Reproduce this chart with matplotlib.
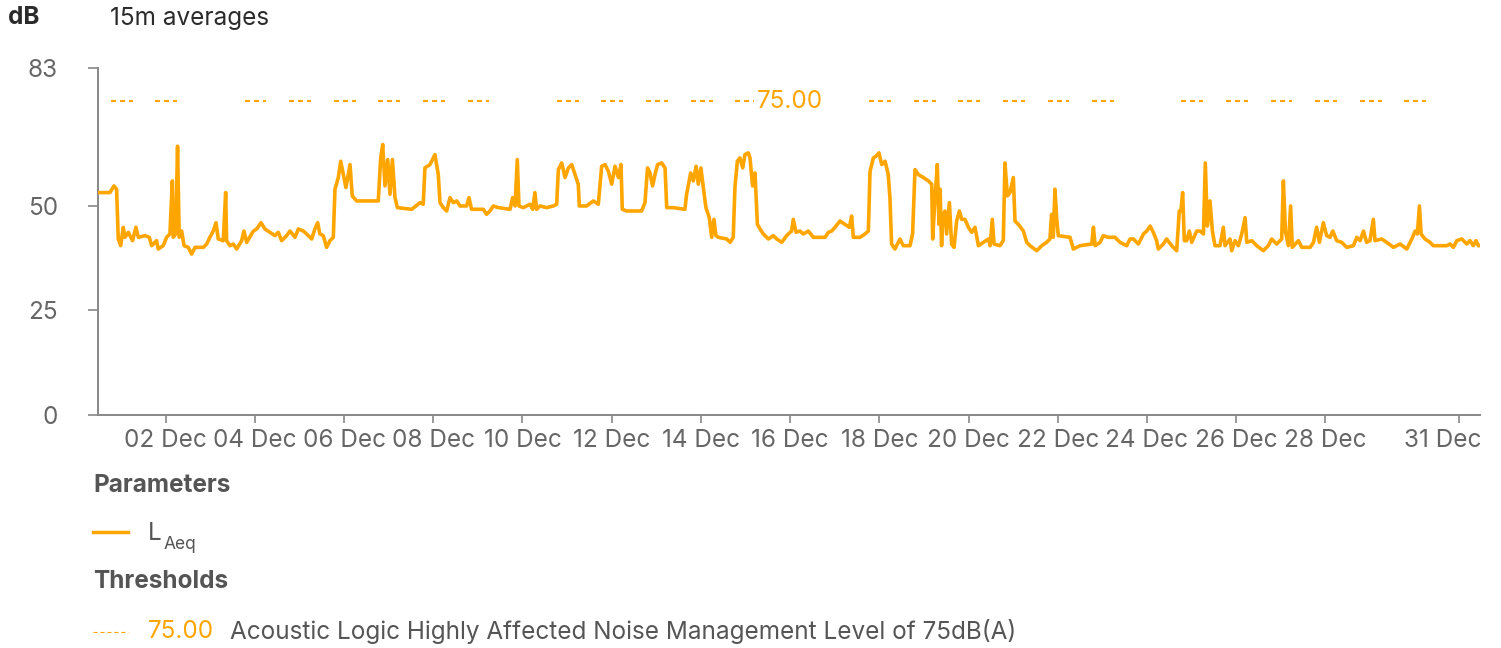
import numpy as np
import pandas as pd
import matplotlib
matplotlib.use("Agg")
import matplotlib.pyplot as plt
import matplotlib.dates as mdates
import matplotlib.transforms as mtrans
from matplotlib.lines import Line2D

plt.rcParams['font.family'] = ['Inter', 'DejaVu Sans']
plt.rcParams['lines.scale_dashes'] = False

# LAeq 15 min averages: hours since 1 Dec 2023 00:00 and dB
hours = [-12.3, -6.0, -3.8, -2.4, -1.5, -0.2, 1.2, 2.1, 3.9, 6.2, 8.0, 9.3, 12.9, 15.2, 16.5,
         19.1, 20.0, 22.7, 24.5, 26.3, 27.6, 28.1, 29.4, 30.4, 31.3, 32.6, 33.9, 36.2, 38.0,
         39.8, 44.3, 46.1, 47.8, 49.6, 51.1, 52.3, 55.0, 56.3, 56.8, 58.6, 60.4, 62.2, 64.9,
         66.1, 67.6, 71.2, 73.0, 75.3, 77.4, 80.1, 82.8, 84.6, 86.4, 89.1, 90.9, 93.6, 95.4,
         98.1, 100.8, 102.6, 104.3, 105.8, 107.0, 108.8, 110.6, 112.4, 114.2, 115.1, 116.9,
         118.2, 119.6, 121.0, 123.2, 124.4, 126.8, 138.4, 139.7, 140.8, 142.0, 143.5, 144.7,
         146.0, 147.4, 148.7, 156.4, 160.9, 162.6, 163.5, 166.2, 168.9, 170.7, 171.6, 173.4,
         175.2, 177.0, 178.8, 180.6, 182.4, 185.9, 187.2, 188.6, 194.9, 196.7, 198.5, 200.3,
         203.0, 209.3, 210.7, 212.0, 213.2, 214.1, 216.4, 220.0, 221.5, 222.7, 223.6, 225.4,
         229.0, 232.6, 234.4, 235.3, 237.1, 238.9, 240.7, 242.5, 244.3, 246.0, 246.6, 250.5,
         254.1, 256.8, 258.6, 260.4, 262.2, 264.0, 265.8, 267.6, 269.0, 269.7, 272.0, 280.1,
         281.9, 283.3, 284.6, 286.0, 287.3, 288.7, 290.9, 292.7, 293.6, 297.2, 303.4, 304.3,
         306.5, 307.9, 309.4, 310.6, 312.0, 313.3, 314.7, 316.5, 317.8, 319.0, 320.1, 321.4,
         325.9, 327.7, 329.4, 330.3, 331.6, 333.0, 334.5, 335.7, 337.5, 338.4, 339.8, 341.1,
         342.4, 343.8, 345.6, 348.3, 351.0, 352.8, 355.5, 358.1, 360.8, 361.7, 363.2, 365.3,
         367.1, 369.8, 372.5, 378.8, 380.6, 382.4, 384.7, 386.8, 389.5, 391.9, 393.1, 394.0,
         397.6, 400.3, 402.1, 403.0, 404.8, 406.2, 407.8, 409.3, 411.1, 412.8, 413.7, 414.6,
         416.4, 419.1, 420.9, 424.5, 425.9, 427.2, 429.0, 431.7, 434.4, 436.2, 436.7, 438.0,
         439.2, 440.1, 440.7, 441.5, 442.1, 443.3, 444.2, 445.7, 446.9, 448.2, 449.6, 451.1,
         452.3, 454.1, 455.9, 457.7, 459.5, 461.3, 466.7, 467.6, 468.8, 469.7, 472.9, 474.7,
         475.6, 476.9, 478.3, 480.1, 481.0, 482.8, 485.5, 487.3, 489.1, 492.7, 495.4, 498.0,
         499.8, 500.7, 501.6, 502.5, 503.4, 504.3, 510.6, 512.4, 516.0, 522.3, 523.2, 524.1,
         526.8, 528.5, 531.2, 534.8, 537.5, 541.1, 542.9, 544.7, 547.4, 550.1, 551.9, 553.7,
         555.4, 557.2, 558.1, 560.8, 562.6, 565.3, 568.0, 569.4, 570.3, 571.2, 572.1, 573.4,
         574.8, 576.1, 578.8, 580.6, 582.4, 583.4, 584.5, 585.9, 587.2, 588.6, 591.3, 593.1,
         594.0, 596.7, 597.6, 599.4, 601.2, 603.0, 604.8, 605.7, 608.4, 611.1, 614.6, 617.3,
         619.1, 621.8, 624.5, 625.4, 626.5, 628.1, 629.3, 630.2, 633.5, 635.3, 639.8, 641.6,
         643.3, 644.8, 646.9, 648.7, 650.5, 652.0, 654.1, 656.8, 659.5, 663.1, 664.9, 666.7,
         668.5, 670.2, 672.0, 673.8, 674.7, 678.3, 681.0, 684.6, 688.2, 691.8, 694.5, 696.3,
         697.5, 698.6, 699.5, 701.6, 704.3, 706.1, 713.3, 715.1, 716.9, 718.7, 721.4, 724.1,
         725.8, 727.6, 729.1, 730.3, 731.2]
laeq = [53.2, 53.2, 54.8, 54.0, 42.1, 40.5, 44.9, 42.5, 43.7, 41.7, 44.9, 42.5, 42.9, 42.5, 40.5,
        41.7, 39.7, 40.5, 42.5, 43.3, 56.0, 42.5, 43.3, 64.3, 42.5, 44.0, 40.5, 40.1, 38.5,
        40.1, 40.1, 40.9, 42.5, 44.0, 46.0, 42.1, 41.7, 53.2, 41.7, 40.5, 40.9, 39.7, 41.7,
        44.0, 41.3, 44.0, 44.5, 46.0, 44.5, 43.7, 42.9, 43.7, 41.7, 42.9, 44.0, 42.5, 44.5,
        44.0, 42.9, 42.1, 44.5, 46.0, 43.3, 42.9, 40.1, 41.7, 42.5, 54.0, 56.8,
        60.7, 57.5, 54.4, 59.9, 52.4, 51.2, 51.2, 61.5, 64.7, 54.8, 61.1, 52.8,
        61.1, 52.0, 49.6, 49.2, 50.8, 50.4, 59.1, 59.9, 62.3, 57.5, 50.8, 49.6,
        48.8, 52.0, 50.8, 51.2, 50.0, 50.0, 52.0, 49.2, 49.2, 48.0, 48.8, 50.0,
        49.6, 49.2, 52.0, 50.0, 61.1, 50.0, 49.6, 50.4, 49.2, 53.2, 49.2, 50.0,
        49.6, 50.0, 50.4, 58.7, 60.3, 56.8, 59.1, 59.9, 57.5, 55.2, 50.0, 50.0,
        51.2, 50.4, 59.5, 59.9, 58.3, 55.2, 59.5, 56.8, 59.9, 49.2, 48.8, 48.8,
        50.8, 59.1, 57.9, 54.8, 57.5, 59.9, 60.3, 59.1, 49.6, 49.6, 49.2, 52.8,
        57.9, 56.0, 59.5, 55.2, 59.1, 54.4, 49.6, 47.2, 42.5, 46.8, 42.9, 42.5,
        42.1, 41.3, 42.5, 54.4, 60.7, 61.5, 59.1, 62.3, 62.7, 61.5, 54.8, 57.9,
        45.6, 44.5, 43.3, 42.1, 42.9, 42.1, 41.3, 42.9, 44.0, 46.8, 43.7, 44.0,
        43.3, 44.0, 42.5, 42.5, 43.7, 44.0, 45.2, 46.4, 45.6, 44.9, 47.6, 42.5,
        42.5, 43.3, 44.0, 58.3, 61.5, 61.9, 62.7, 59.9, 60.7, 57.5, 52.0, 40.9,
        39.7, 42.1, 40.5, 40.5, 43.3, 58.7, 57.5, 56.8, 56.0, 55.2, 42.1, 52.0,
        59.9, 45.6, 54.0, 40.5, 47.2, 48.8, 43.3, 50.8, 40.9, 40.1, 46.4, 48.8,
        46.8, 46.8, 44.9, 43.7, 44.9, 40.5, 42.1, 40.5, 46.8, 40.9, 40.5, 41.7,
        60.3, 52.4, 53.2, 56.8, 46.4, 45.6, 44.0, 41.3, 40.5, 39.3, 40.5, 41.3,
        42.1, 48.0, 42.5, 54.0, 47.2, 42.9, 42.5, 39.7, 40.5, 40.9, 44.9, 40.5,
        41.3, 42.9, 42.5, 42.5, 41.3, 40.5, 42.1, 42.1, 40.9, 43.3, 44.0, 45.2,
        43.7, 41.7, 39.7, 40.9, 42.1, 40.5, 39.3, 48.8, 48.8, 53.2, 41.7, 41.7,
        44.0, 41.3, 44.0, 44.0, 43.3, 60.3, 45.2, 51.2, 44.0, 40.5, 40.5, 44.9,
        40.5, 42.1, 39.3, 41.7, 40.5, 43.3, 47.2, 41.3, 41.7, 40.5, 39.3, 40.5,
        42.1, 40.9, 42.1, 56.0, 44.0, 40.5, 50.0, 40.1, 41.7, 40.1, 40.1, 41.3,
        44.9, 41.3, 46.0, 42.9, 42.5, 44.0, 41.7, 41.3, 40.1, 40.5, 42.5, 41.7,
        44.0, 41.3, 41.7, 46.8, 41.7, 42.1, 41.3, 40.1, 40.9, 39.7, 42.1, 44.0,
        43.3, 50.0, 43.3, 42.1, 41.3, 40.5, 40.5, 40.9, 40.1, 41.7, 42.1, 40.9,
        41.7, 40.5, 41.7, 40.5, 40.5]

# threshold applies on these days (no Sundays), window around midnight in hours
threshold = 75.0
thr_days = [1, 2, 4, 5, 6, 7, 8, 9, 11, 12, 13, 14, 15, 16, 18, 19, 20, 21, 22, 23,
            25, 26, 27, 28, 29, 30]
thr_from_h = -5.5
thr_to_h = 6.25

tick_days = [2, 4, 6, 8, 10, 12, 14, 16, 18, 20, 22, 24, 26, 28, 31]
y_ticks = [0, 25, 50, 83]

orange = '#FFA500'
fs = 17.5
base = pd.Timestamp('2023-12-01')
t = base + pd.to_timedelta(hours, unit='h')

fig = plt.figure(figsize=(15.01, 6.48), dpi=100)
W, H = 1501, 648
ax = fig.add_axes([98 / W, 1 - 415 / H, (1480 - 98) / W, (415 - 68) / H])

ax.plot(t, laeq, color=orange, lw=2.6, solid_joinstyle='round', zorder=3)

for d in thr_days:
    day0 = base + pd.Timedelta(days=d - 1)
    ax.plot([day0 + pd.Timedelta(hours=thr_from_h), day0 + pd.Timedelta(hours=thr_to_h)],
            [threshold, threshold], color=orange, lw=1.5, dashes=(3.6, 2.9), zorder=2)

lab_tr = mtrans.blended_transform_factory(ax.transAxes, ax.transData)
ax.text(0.5007, threshold, '75.00', transform=lab_tr, ha='center', va='center',
        color=orange, fontsize=fs,
        bbox=dict(facecolor='white', edgecolor='none', pad=2), zorder=4)

ax.set_xlim(base + pd.Timedelta(hours=-12.4), base + pd.Timedelta(hours=731.2))
ax.set_ylim(0, 83)
ax.set_yticks(y_ticks)
ax.set_xticks([base + pd.Timedelta(days=d - 1) for d in tick_days])
ax.xaxis.set_major_formatter(mdates.DateFormatter('%d %b'))

for s in ['top', 'right']:
    ax.spines[s].set_visible(False)
for s in ['left', 'bottom']:
    ax.spines[s].set_color('#888888')
    ax.spines[s].set_linewidth(1.4)
ax.tick_params(axis='y', length=7, width=1.2, color='#888888', labelcolor='#666666',
               labelsize=fs, pad=22)
ax.tick_params(axis='x', length=6, width=1.2, color='#888888', labelcolor='#666666',
               labelsize=fs, pad=4)

# last date label is pulled in so it stays inside the plot width
last = ax.get_xticklabels()[-1]
last.set_transform(last.get_transform() + mtrans.ScaledTranslation(-0.16, 0, fig.dpi_scale_trans))

fig.text(8 / W, 1 - 18 / H, 'dB', fontsize=fs, fontweight='bold', color='#2b2b2b', va='center')
fig.text(110 / W, 1 - 18 / H, '15m averages', fontsize=fs, color='#2b2b2b', va='center')

# legend block under the chart
fig.text(93 / W, 1 - 485 / H, 'Parameters', fontsize=fs, fontweight='bold', color='#555555', va='center')
fig.add_artist(Line2D([93 / W, 128 / W], [1 - 532 / H] * 2, color=orange, lw=2.5))
lt = fig.text(148 / W, 1 - 533 / H, 'L', fontsize=fs, color='#555555', va='center')
ax.annotate('Aeq', xy=(1, 0), xycoords=lt, xytext=(1, 0), textcoords='offset points',
            fontsize=12.5, color='#555555', va='center', annotation_clip=False)
fig.text(93 / W, 1 - 582 / H, 'Thresholds', fontsize=fs, fontweight='bold', color='#555555', va='center')
fig.add_artist(Line2D([93 / W, 128 / W], [1 - 632 / H] * 2, color=orange, lw=0.8, dashes=(3, 2)))
fig.text(148 / W, 1 - 632 / H, '75.00', fontsize=fs, color=orange, va='center')
fig.text(230 / W, 1 - 632 / H, 'Acoustic Logic Highly Affected Noise Management Level of 75dB(A)',
         fontsize=fs, color='#555555', va='center')

fig.savefig('out.png', dpi=100)
